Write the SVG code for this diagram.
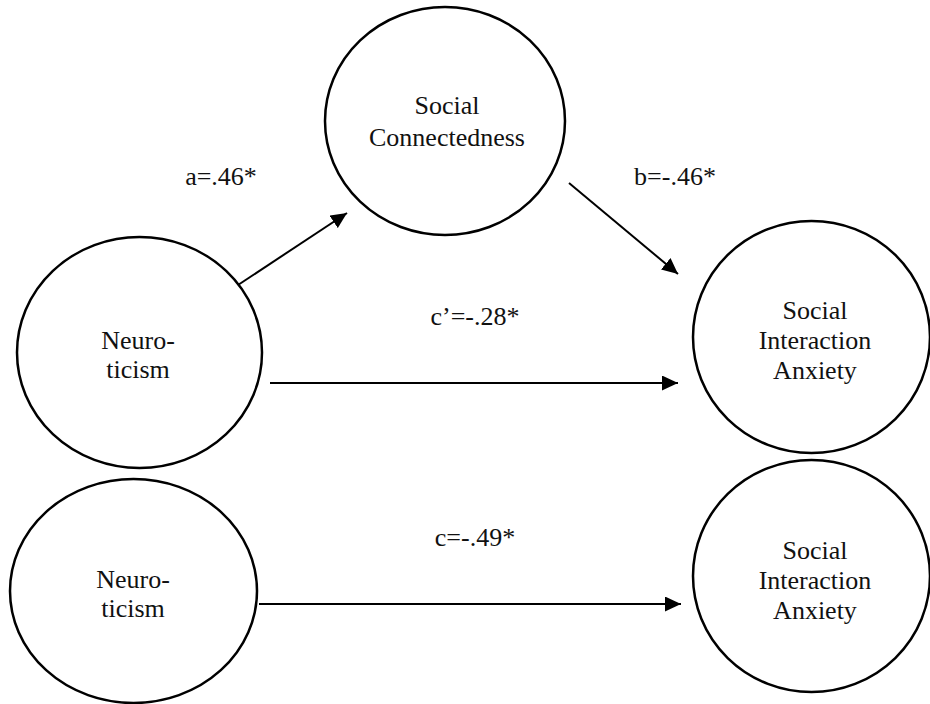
<svg xmlns="http://www.w3.org/2000/svg" width="930" height="704" viewBox="0 0 930 704">
  <style>
    .node { fill: #ffffff; stroke: #000000; stroke-width: 2.5; }
    .lbl { font-family: 'Liberation Serif', 'Times New Roman', serif; font-size: 26px; fill: #111111; text-anchor: middle; }
    .edge { stroke: #000000; stroke-width: 2; fill: none; marker-end: url(#arrow); }
  </style>
  <defs>
    <marker id="arrow" markerUnits="userSpaceOnUse" markerWidth="16" markerHeight="15" refX="16" refY="7.5" orient="auto">
      <path d="M0,0 L16,7.5 L0,15 Z" fill="#000000"/>
    </marker>
  </defs>
  <rect x="0" y="0" width="930" height="704" fill="#ffffff"/>

  <g id="social-connectedness">
    <ellipse class="node" cx="445" cy="121" rx="120" ry="114"/>
    <text class="lbl" x="447" y="114">Social</text>
    <text class="lbl" x="447" y="146">Connectedness</text>
  </g>

  <g id="neuroticism-top">
    <ellipse class="node" cx="139.5" cy="352.5" rx="122.5" ry="115.5"/>
    <text class="lbl" x="138" y="349">Neuro-</text>
    <text class="lbl" x="138" y="378">ticism</text>
  </g>

  <g id="sia-top">
    <ellipse class="node" cx="811.5" cy="337" rx="118.5" ry="116"/>
    <text class="lbl" x="815" y="319">Social</text>
    <text class="lbl" x="815" y="349">Interaction</text>
    <text class="lbl" x="815" y="379">Anxiety</text>
  </g>

  <g id="neuroticism-bottom">
    <ellipse class="node" cx="133.5" cy="591" rx="123.5" ry="112"/>
    <text class="lbl" x="133" y="588">Neuro-</text>
    <text class="lbl" x="133" y="617">ticism</text>
  </g>

  <g id="sia-bottom">
    <ellipse class="node" cx="811.5" cy="576" rx="118.5" ry="116"/>
    <text class="lbl" x="815" y="559">Social</text>
    <text class="lbl" x="815" y="589">Interaction</text>
    <text class="lbl" x="815" y="619">Anxiety</text>
  </g>

  <g id="connectors">
    <line class="edge" x1="238" y1="285" x2="347" y2="213"/>
    <line class="edge" x1="569" y1="183" x2="678" y2="274"/>
    <line class="edge" x1="270" y1="383" x2="678" y2="383"/>
    <line class="edge" x1="259" y1="604" x2="681" y2="604"/>
    <text class="lbl" x="221" y="185">a=.46*</text>
    <text class="lbl" x="675" y="185">b=-.46*</text>
    <text class="lbl" x="475" y="325">c’=-.28*</text>
    <text class="lbl" x="475" y="546">c=-.49*</text>
  </g>
</svg>
